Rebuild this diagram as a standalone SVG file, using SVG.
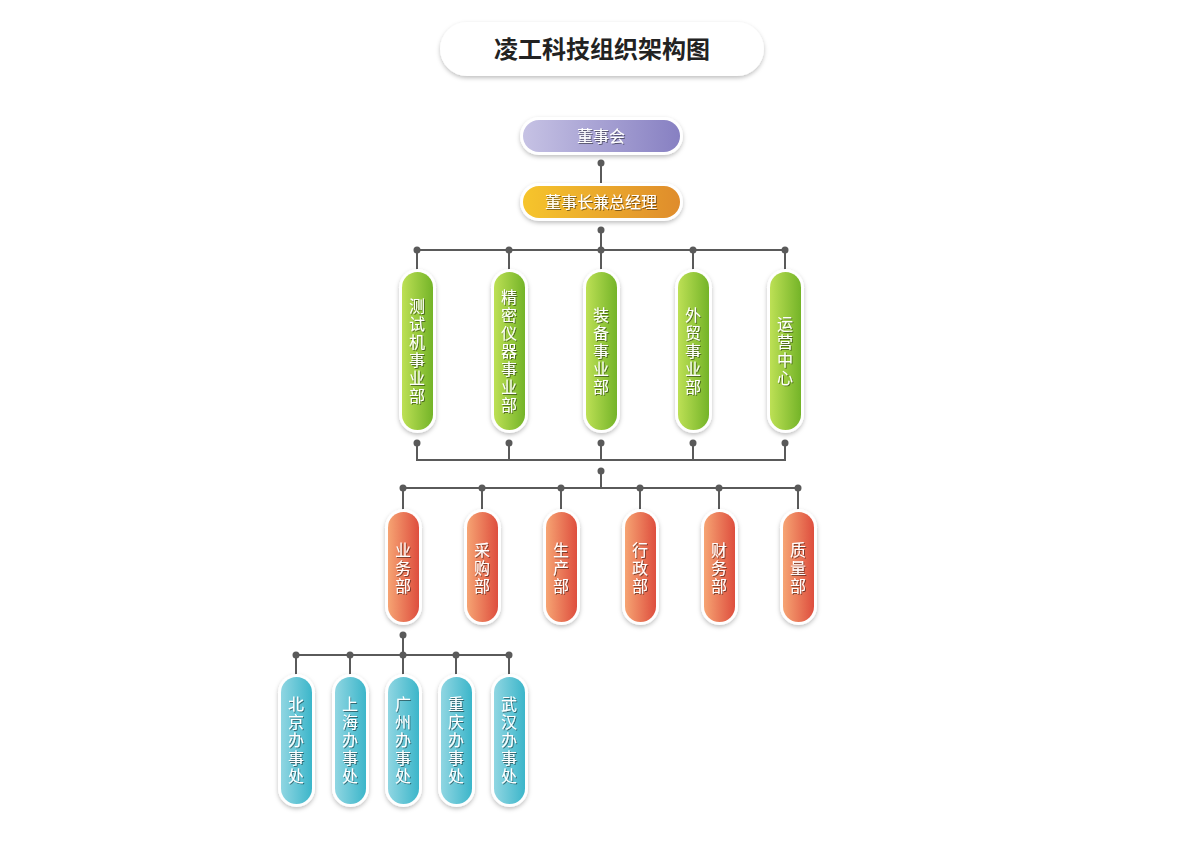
<svg xmlns="http://www.w3.org/2000/svg" width="1200" height="842" viewBox="0 0 1200 842">
<defs>
<linearGradient id="gP" x1="0" x2="1"><stop offset="0" stop-color="#c6c2e4"/><stop offset="1" stop-color="#8780c2"/></linearGradient>
<linearGradient id="gO" x1="0" x2="1"><stop offset="0" stop-color="#f6c52c"/><stop offset="1" stop-color="#df8c2c"/></linearGradient>
<linearGradient id="gG" x1="0" x2="1"><stop offset="0" stop-color="#bde055"/><stop offset="1" stop-color="#74b428"/></linearGradient>
<linearGradient id="gR" x1="0" x2="1"><stop offset="0" stop-color="#f6a473"/><stop offset="1" stop-color="#de4e3e"/></linearGradient>
<linearGradient id="gC" x1="0" x2="1"><stop offset="0" stop-color="#90d6e2"/><stop offset="1" stop-color="#3cb6ca"/></linearGradient>
<filter id="sh" x="-30%" y="-30%" width="160%" height="160%"><feDropShadow dx="0" dy="2" stdDeviation="2" flood-color="#000" flood-opacity="0.25"/></filter>
<filter id="ts" x="-20%" y="-20%" width="140%" height="140%"><feDropShadow dx="1" dy="1" stdDeviation="0.6" flood-color="#000" flood-opacity="0.45"/></filter>
</defs>
<style>
.w{fill:#fff;filter:url(#sh)}
.t{font-family:"Noto Sans CJK SC","Liberation Sans",sans-serif;font-size:16px;fill:#fff;text-anchor:middle;filter:url(#ts)}
.c line{stroke:#5a5a5a;stroke-width:2}
.c circle{fill:#5a5a5a}
</style>
<rect x="440" y="22" width="324" height="54" rx="27" class="w"/>
<text x="602" y="58" font-family="Noto Sans CJK SC,sans-serif" font-size="24" font-weight="bold" fill="#222" text-anchor="middle">凌工科技组织架构图</text>
<g class="c">
<line x1="601" y1="163" x2="601" y2="186"/><circle cx="601" cy="163" r="3.5"/>
<line x1="601" y1="230" x2="601" y2="272"/><circle cx="601" cy="230" r="3.5"/>
<line x1="417" y1="250" x2="785" y2="250"/>
<g><line x1="417" y1="250" x2="417" y2="272"/><line x1="509" y1="250" x2="509" y2="272"/><line x1="693" y1="250" x2="693" y2="272"/><line x1="785" y1="250" x2="785" y2="272"/>
<circle cx="417" cy="250" r="3.5"/><circle cx="509" cy="250" r="3.5"/><circle cx="601" cy="250" r="3.5"/><circle cx="693" cy="250" r="3.5"/><circle cx="785" cy="250" r="3.5"/></g>
<line x1="417" y1="443" x2="417" y2="460"/><line x1="509" y1="443" x2="509" y2="460"/><line x1="601" y1="443" x2="601" y2="460"/><line x1="693" y1="443" x2="693" y2="460"/><line x1="785" y1="443" x2="785" y2="460"/>
<circle cx="417" cy="443" r="3.5"/><circle cx="509" cy="443" r="3.5"/><circle cx="601" cy="443" r="3.5"/><circle cx="693" cy="443" r="3.5"/><circle cx="785" cy="443" r="3.5"/>
<line x1="416" y1="460" x2="786" y2="460"/>
<line x1="601" y1="471" x2="601" y2="488"/><circle cx="601" cy="471" r="3.5"/>
<line x1="403" y1="488" x2="798" y2="488"/>
<line x1="403" y1="488" x2="403" y2="512"/><line x1="482" y1="488" x2="482" y2="512"/><line x1="561" y1="488" x2="561" y2="512"/><line x1="640" y1="488" x2="640" y2="512"/><line x1="719" y1="488" x2="719" y2="512"/><line x1="798" y1="488" x2="798" y2="512"/>
<circle cx="403" cy="488" r="3.5"/><circle cx="482" cy="488" r="3.5"/><circle cx="561" cy="488" r="3.5"/><circle cx="640" cy="488" r="3.5"/><circle cx="719" cy="488" r="3.5"/><circle cx="798" cy="488" r="3.5"/>
<line x1="403" y1="635" x2="403" y2="655"/><circle cx="403" cy="635" r="3.5"/>
<line x1="296" y1="655" x2="509" y2="655"/>
<line x1="296" y1="655" x2="296" y2="677"/><line x1="350" y1="655" x2="350" y2="677"/><line x1="403" y1="655" x2="403" y2="677"/><line x1="456" y1="655" x2="456" y2="677"/><line x1="509" y1="655" x2="509" y2="677"/>
<circle cx="296" cy="655" r="3.5"/><circle cx="350" cy="655" r="3.5"/><circle cx="403" cy="655" r="3.5"/><circle cx="456" cy="655" r="3.5"/><circle cx="509" cy="655" r="3.5"/>
</g>
<g id="n-board"><rect x="520" y="117" width="163" height="38" rx="19" class="w"/><rect x="523" y="120" width="157" height="32" rx="16" fill="url(#gP)"/><text class="t" x="601" y="142">董事会</text></g>
<g id="n-ceo"><rect x="520" y="183" width="163" height="38" rx="19" class="w"/><rect x="523" y="186" width="157" height="32" rx="16" fill="url(#gO)"/><text class="t" x="601" y="208">董事长兼总经理</text></g>
<g id="n-g1"><rect x="399" y="269" width="37" height="164" rx="18.5" class="w"/><rect x="402" y="272" width="31" height="158" rx="15.5" fill="url(#gG)"/><text class="t" x="417" y="312"><tspan x="417">测</tspan><tspan x="417" dy="18">试</tspan><tspan x="417" dy="18">机</tspan><tspan x="417" dy="18">事</tspan><tspan x="417" dy="18">业</tspan><tspan x="417" dy="18">部</tspan></text></g>
<g id="n-g2"><rect x="491" y="269" width="37" height="164" rx="18.5" class="w"/><rect x="494" y="272" width="31" height="158" rx="15.5" fill="url(#gG)"/><text class="t" x="509" y="303"><tspan x="509">精</tspan><tspan x="509" dy="18">密</tspan><tspan x="509" dy="18">仪</tspan><tspan x="509" dy="18">器</tspan><tspan x="509" dy="18">事</tspan><tspan x="509" dy="18">业</tspan><tspan x="509" dy="18">部</tspan></text></g>
<g id="n-g3"><rect x="583" y="269" width="37" height="164" rx="18.5" class="w"/><rect x="586" y="272" width="31" height="158" rx="15.5" fill="url(#gG)"/><text class="t" x="601" y="321"><tspan x="601">装</tspan><tspan x="601" dy="18">备</tspan><tspan x="601" dy="18">事</tspan><tspan x="601" dy="18">业</tspan><tspan x="601" dy="18">部</tspan></text></g>
<g id="n-g4"><rect x="675" y="269" width="37" height="164" rx="18.5" class="w"/><rect x="678" y="272" width="31" height="158" rx="15.5" fill="url(#gG)"/><text class="t" x="693" y="321"><tspan x="693">外</tspan><tspan x="693" dy="18">贸</tspan><tspan x="693" dy="18">事</tspan><tspan x="693" dy="18">业</tspan><tspan x="693" dy="18">部</tspan></text></g>
<g id="n-g5"><rect x="767" y="269" width="37" height="164" rx="18.5" class="w"/><rect x="770" y="272" width="31" height="158" rx="15.5" fill="url(#gG)"/><text class="t" x="785" y="330"><tspan x="785">运</tspan><tspan x="785" dy="18">营</tspan><tspan x="785" dy="18">中</tspan><tspan x="785" dy="18">心</tspan></text></g>
<g id="n-r1"><rect x="385" y="509" width="37" height="116" rx="18.5" class="w"/><rect x="388" y="512" width="31" height="110" rx="15.5" fill="url(#gR)"/><text class="t" x="403" y="556"><tspan x="403">业</tspan><tspan x="403" dy="18">务</tspan><tspan x="403" dy="18">部</tspan></text></g>
<g id="n-r2"><rect x="464" y="509" width="37" height="116" rx="18.5" class="w"/><rect x="467" y="512" width="31" height="110" rx="15.5" fill="url(#gR)"/><text class="t" x="482" y="556"><tspan x="482">采</tspan><tspan x="482" dy="18">购</tspan><tspan x="482" dy="18">部</tspan></text></g>
<g id="n-r3"><rect x="543" y="509" width="37" height="116" rx="18.5" class="w"/><rect x="546" y="512" width="31" height="110" rx="15.5" fill="url(#gR)"/><text class="t" x="561" y="556"><tspan x="561">生</tspan><tspan x="561" dy="18">产</tspan><tspan x="561" dy="18">部</tspan></text></g>
<g id="n-r4"><rect x="622" y="509" width="37" height="116" rx="18.5" class="w"/><rect x="625" y="512" width="31" height="110" rx="15.5" fill="url(#gR)"/><text class="t" x="640" y="556"><tspan x="640">行</tspan><tspan x="640" dy="18">政</tspan><tspan x="640" dy="18">部</tspan></text></g>
<g id="n-r5"><rect x="701" y="509" width="37" height="116" rx="18.5" class="w"/><rect x="704" y="512" width="31" height="110" rx="15.5" fill="url(#gR)"/><text class="t" x="719" y="556"><tspan x="719">财</tspan><tspan x="719" dy="18">务</tspan><tspan x="719" dy="18">部</tspan></text></g>
<g id="n-r6"><rect x="780" y="509" width="37" height="116" rx="18.5" class="w"/><rect x="783" y="512" width="31" height="110" rx="15.5" fill="url(#gR)"/><text class="t" x="798" y="556"><tspan x="798">质</tspan><tspan x="798" dy="18">量</tspan><tspan x="798" dy="18">部</tspan></text></g>
<g id="n-c1"><rect x="278" y="674" width="37" height="133" rx="18.5" class="w"/><rect x="281" y="677" width="31" height="127" rx="15.5" fill="url(#gC)"/><text class="t" x="296" y="710"><tspan x="296">北</tspan><tspan x="296" dy="18">京</tspan><tspan x="296" dy="18">办</tspan><tspan x="296" dy="18">事</tspan><tspan x="296" dy="18">处</tspan></text></g>
<g id="n-c2"><rect x="332" y="674" width="37" height="133" rx="18.5" class="w"/><rect x="335" y="677" width="31" height="127" rx="15.5" fill="url(#gC)"/><text class="t" x="350" y="710"><tspan x="350">上</tspan><tspan x="350" dy="18">海</tspan><tspan x="350" dy="18">办</tspan><tspan x="350" dy="18">事</tspan><tspan x="350" dy="18">处</tspan></text></g>
<g id="n-c3"><rect x="385" y="674" width="37" height="133" rx="18.5" class="w"/><rect x="388" y="677" width="31" height="127" rx="15.5" fill="url(#gC)"/><text class="t" x="403" y="710"><tspan x="403">广</tspan><tspan x="403" dy="18">州</tspan><tspan x="403" dy="18">办</tspan><tspan x="403" dy="18">事</tspan><tspan x="403" dy="18">处</tspan></text></g>
<g id="n-c4"><rect x="438" y="674" width="37" height="133" rx="18.5" class="w"/><rect x="441" y="677" width="31" height="127" rx="15.5" fill="url(#gC)"/><text class="t" x="456" y="710"><tspan x="456">重</tspan><tspan x="456" dy="18">庆</tspan><tspan x="456" dy="18">办</tspan><tspan x="456" dy="18">事</tspan><tspan x="456" dy="18">处</tspan></text></g>
<g id="n-c5"><rect x="491" y="674" width="37" height="133" rx="18.5" class="w"/><rect x="494" y="677" width="31" height="127" rx="15.5" fill="url(#gC)"/><text class="t" x="509" y="710"><tspan x="509">武</tspan><tspan x="509" dy="18">汉</tspan><tspan x="509" dy="18">办</tspan><tspan x="509" dy="18">事</tspan><tspan x="509" dy="18">处</tspan></text></g>
</svg>
